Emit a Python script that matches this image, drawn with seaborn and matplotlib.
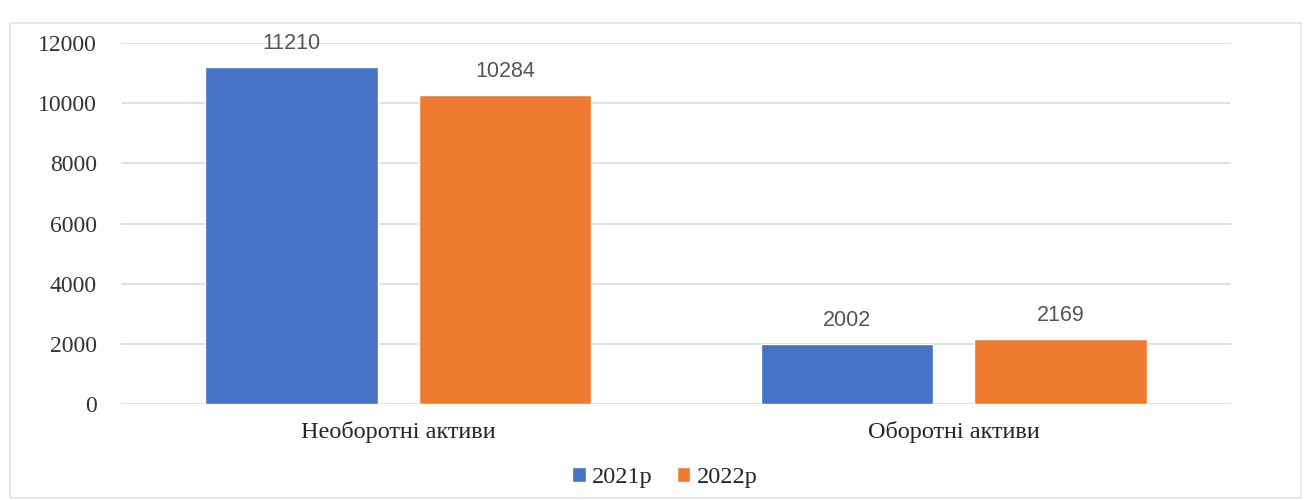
import matplotlib
matplotlib.use("Agg")
import matplotlib.pyplot as plt
import seaborn as sns
import pandas as pd
from matplotlib.patches import Rectangle

categories = ["Необоротні активи", "Оборотні активи"]
years = ["2021р", "2022р"]
values_2021 = [11210, 2002]
values_2022 = [10284, 2169]
yticks = [0, 2000, 4000, 6000, 8000, 10000, 12000]

df = pd.DataFrame({
    "cat": categories * 2,
    "year": [years[0]] * 2 + [years[1]] * 2,
    "val": values_2021 + values_2022,
})

sns.set_theme(style="white")
serif = ["Liberation Serif", "DejaVu Serif"]
plt.rcParams["font.family"] = serif

fig = plt.figure(figsize=(13.1, 5.0), dpi=100)
ax = fig.add_axes([0.092, 0.192, 0.848, 0.722])

# faint chart-area border
fig.patches.append(Rectangle((0.008, 0.005), 0.985, 0.95, transform=fig.transFigure,
                             fill=False, edgecolor="#e4e4e4", linewidth=1.2))

sns.barplot(data=df, x="cat", y="val", hue="year", order=categories, hue_order=years,
            palette=["#4672c8", "#ee7b30"], width=0.768, gap=0.19, ax=ax,
            legend=True, saturation=1)

ax.set_ylim(0, 12000)
ax.set_xlim(-0.5, 1.5)
ax.set_yticks(yticks)
ax.set_yticklabels([str(t) for t in yticks], fontsize=17, color="#333333", family=serif)
ax.yaxis.grid(True, color="#dcdcdc", linewidth=1.2)
ax.set_axisbelow(True)
for s in ax.spines.values():
    s.set_visible(False)
ax.tick_params(axis="y", length=0, pad=17)
ax.tick_params(axis="x", length=0, pad=12)
ax.set_xticklabels(categories, fontsize=17.5, color="#262626", family=serif)
ax.set_xlabel("")
ax.set_ylabel("")

for cont in ax.containers:
    ax.bar_label(cont, labels=[f"{int(v)}" for v in cont.datavalues], padding=9,
                 fontsize=15.5, color="#555555", family=["Liberation Sans", "DejaVu Sans"])

leg = ax.legend(loc="upper center", bbox_to_anchor=(0.49, -0.115), ncol=2, frameon=False,
                handlelength=0.55, handleheight=0.55, handletextpad=0.25,
                columnspacing=1.0, prop={"family": serif, "size": 17.5})

fig.savefig("out.png", dpi=100, facecolor="white")
